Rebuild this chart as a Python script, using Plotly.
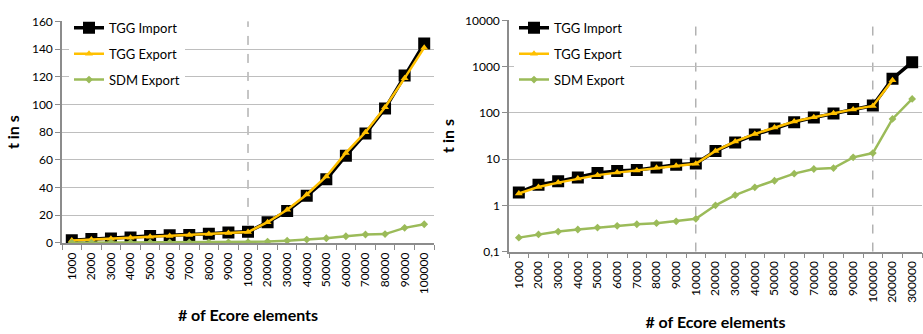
import plotly.graph_objects as go

# ---- data ----
categories_left = ["1000", "2000", "3000", "4000", "5000", "6000", "7000", "8000", "9000", "10000",
                   "20000", "30000", "40000", "50000", "60000", "70000", "80000", "90000", "100000"]
categories_right = categories_left + ["200000", "300000"]

tgg_import = [1.9, 2.8, 3.3, 4.0, 5.0, 5.5, 5.8, 6.6, 7.5, 8.0,
              15, 23, 34, 46, 63, 79, 97, 121, 144, 550, 1250]
tgg_export = [1.8, 2.5, 3.1, 3.8, 4.5, 5.1, 5.7, 6.5, 7.2, 7.9,
              15, 24, 35, 48, 65, 80, 98, 119, 141, 510, None]
sdm_export = [0.20, 0.235, 0.27, 0.30, 0.33, 0.36, 0.39, 0.41, 0.45, 0.51,
              1.0, 1.66, 2.45, 3.4, 4.85, 6.1, 6.4, 10.9, 13.5, 74, 200]

log_tickvals = [0.1, 1, 10, 100, 1000, 10000]
log_ticktext = ["0,1", "1", "10", "100", "1000", "10000"]
lin_tickvals = [0, 20, 40, 60, 80, 100, 120, 140, 160]

# categories where the dashed separators sit
separators_left = ["10000"]
separators_right = ["10000", "100000"]

FONT = "Lato"
BLACK = "#000000"
YELLOW = "#FFC000"
GREEN = "#9BBB59"
GRID = "#BEBEBE"
AXIS = "#8C8C8C"

n_left = len(categories_left)

series = [
    ("TGG Import", tgg_import, dict(color=BLACK, width=3.5), dict(symbol="square", size=12, color=BLACK)),
    ("TGG Export", tgg_export, dict(color=YELLOW, width=2.5), dict(symbol="triangle-up", size=7, color=YELLOW)),
    ("SDM Export", sdm_export, dict(color=GREEN, width=2.5), dict(symbol="diamond", size=6, color=GREEN)),
]

fig = go.Figure()
for i, (name, vals, line, marker) in enumerate(series):
    fig.add_trace(go.Scatter(x=categories_left, y=vals[:n_left], name=name, mode="lines+markers",
                             line=line, marker=marker, xaxis="x", yaxis="y",
                             legend="legend", legendgroup="L%d" % i))
for i, (name, vals, line, marker) in enumerate(series):
    fig.add_trace(go.Scatter(x=categories_right, y=vals, name=name, mode="lines+markers",
                             line=line, marker=marker, xaxis="x2", yaxis="y2",
                             legend="legend2", legendgroup="R%d" % i, connectgaps=False))

W, H = 923, 334
def px_x(p):
    return p / W
def px_y(p):
    return 1 - p / H

tickfont = dict(family=FONT, size=12, color="#000000")
titlefont = dict(family=FONT, size=16, color="#000000", weight="bold")

common_x = dict(type="category", tickangle=-90, tickfont=tickfont, showline=True, linecolor=AXIS,
                linewidth=1.5, ticks="outside", tickson="boundaries", ticklen=5, tickcolor=AXIS,
                showgrid=False, zeroline=False, fixedrange=True, ticklabelstandoff=3)
common_y = dict(showline=True, linecolor=AXIS, linewidth=1.5, ticks="outside", ticklen=5,
                tickcolor=AXIS, showgrid=True, gridcolor=GRID, gridwidth=1.2, zeroline=False,
                tickfont=tickfont)

fig.update_layout(
    width=W, height=H,
    margin=dict(l=0, r=0, t=0, b=0),
    paper_bgcolor="white", plot_bgcolor="white",
    xaxis=dict(common_x, domain=[px_x(62), px_x(434)], range=[-0.5, n_left - 0.5], anchor="y",
               title=dict(text="# of Ecore elements", font=titlefont, standoff=17)),
    yaxis=dict(common_y, domain=[px_y(246), px_y(14)], range=[0, 160], tickvals=lin_tickvals,
               anchor="x", title=dict(text="t in s", font=titlefont, standoff=8)),
    xaxis2=dict(common_x, domain=[px_x(509), px_x(922)], range=[-0.5, len(categories_right) - 0.5],
                anchor="y2", title=dict(text="# of Ecore elements", font=titlefont, standoff=15)),
    yaxis2=dict(common_y, domain=[px_y(255), px_y(13)], type="log", range=[-1, 4],
                tickvals=log_tickvals, ticktext=log_ticktext, anchor="x2",
                title=dict(text="t in s", font=titlefont, standoff=6)),
    legend=dict(x=px_x(69), y=px_y(5), xanchor="left", yanchor="top", bgcolor="white",
                font=dict(family=FONT, size=13, color="#000"), traceorder="grouped",
                tracegroupgap=6, itemwidth=30),
    legend2=dict(x=px_x(514), y=px_y(5), xanchor="left", yanchor="top", bgcolor="white",
                 font=dict(family=FONT, size=13, color="#000"), traceorder="grouped",
                 tracegroupgap=6, itemwidth=30),
    showlegend=True,
)

for xref, yref, cats, seps in [("x", "y domain", categories_left, separators_left),
                               ("x2", "y2 domain", categories_right, separators_right)]:
    for cat in seps:
        idx = cats.index(cat)
        fig.add_shape(type="line", xref=xref, yref=yref, x0=idx, x1=idx, y0=0, y1=1,
                      line=dict(color="#8C8C8C", width=1, dash="dash"), layer="below")

fig.write_html("out.html")
